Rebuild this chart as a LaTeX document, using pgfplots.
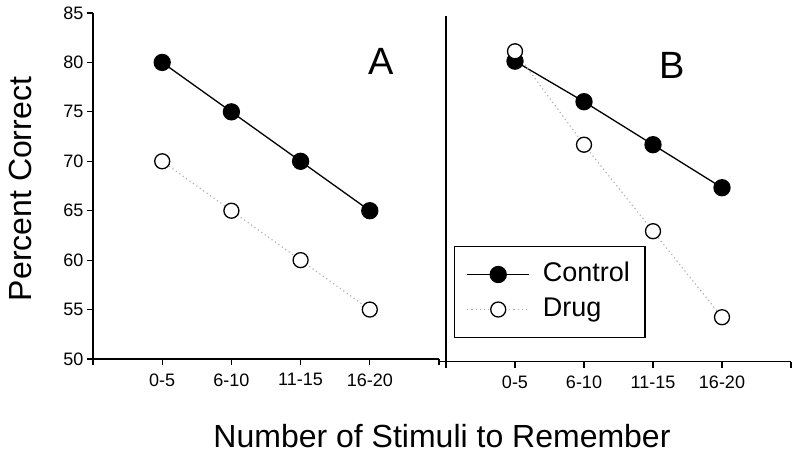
\documentclass[border=0pt]{standalone}
\usepackage{fontspec}
\setmainfont{Liberation Sans}
\usepackage{pgfplots}
\pgfplotsset{compat=1.18}
\begin{document}
\begin{tikzpicture}
\useasboundingbox (0,0) rectangle (800bp,456bp);
\pgfplotsset{
  panel/.style={
    scale only axis, height=346bp,
    xmin=0, xmax=5, ymin=50, ymax=85,
    axis lines*=left,
    axis line style={line width=1.4bp, black},
    tick style={line width=1.2bp, black},
    tick align=outside, major tick length=6bp,
    xtick={0,1,2,3,4,5},
    xticklabels={,0-5,6-10,11-15,16-20,},
    ticklabel style={font=\fontsize{18bp}{20bp}\selectfont},
    xticklabel style={yshift=-5bp},
    /pgf/number format/assume math mode=true,
    clip=false,
  },
  ctrl/.style={black, line width=1.3bp, mark=*, mark size=8bp, mark options={solid}},
  drug/.style={color=black!30, line width=1.2bp, dash pattern=on 1.2bp off 3bp, mark=*, mark size=7.5bp, mark options={solid, draw=black, fill=white, line width=1.3bp}},
}
% Panel A
\begin{axis}[panel, at={(93bp,97bp)}, anchor=south west, width=346bp,
  ytick={50,55,...,85}]
\addplot[ctrl] coordinates {(1,80) (2,75) (3,70) (4,65)};
\addplot[drug] coordinates {(1,70) (2,65) (3,60) (4,55)};
\node[font=\fontsize{38bp}{40bp}\selectfont] at (axis cs:4.16,80.1) {A};
\end{axis}
% Panel B
\begin{axis}[panel, at={(446bp,94.3bp)}, anchor=south west, width=345bp,
  ytick={50}, yticklabels={\empty},
  legend image code/.code={\draw[mark repeat=2,mark phase=2,#1] plot coordinates {(0bp,0bp) (31bp,0bp) (62bp,0bp)};},
  legend cell align=left,
  legend style={at={(0.023,0.068)}, anchor=south west, draw=black, line width=1.3bp,
    font=\fontsize{27bp}{30bp}\selectfont, inner xsep=12bp, inner ysep=12bp,
    row sep=3bp, column sep=10bp,
    nodes={text height=20bp, text depth=6bp, inner xsep=3bp, inner ysep=3bp}}]
\addplot[ctrl] coordinates {(1,80.4) (2,76.3) (3,71.95) (4,67.6)};
\addlegendentry{Control}
\addplot[drug] coordinates {(1,81.4) (2,71.95) (3,63.2) (4,54.5)};
\addlegendentry{Drug}
\node[font=\fontsize{38bp}{40bp}\selectfont] at (axis cs:3.28,79.96) {B};
\end{axis}
\node[font=\fontsize{32bp}{36bp}\selectfont] at (442bp,20bp) {Number of Stimuli to Remember};
\node[rotate=90, font=\fontsize{32bp}{36bp}\selectfont] at (20bp,267bp) {Percent Correct};
\end{tikzpicture}
\end{document}
